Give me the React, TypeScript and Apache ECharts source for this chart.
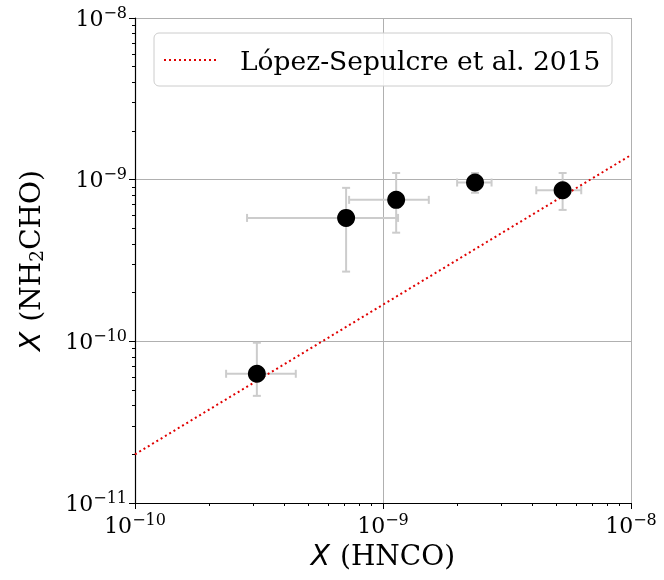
import { useEffect, useRef } from "react";
import * as echarts from "echarts";

const hnco = [3.1e-10, 7.1e-10, 1.13e-9, 2.35e-9, 5.3e-9];
const hncoLow = [2.33e-10, 2.83e-10, 7.3e-10, 1.99e-9, 4.15e-9];
const hncoHigh = [4.45e-10, 1.15e-9, 1.53e-9, 2.74e-9, 6.3e-9];
const nh2cho = [6.3e-11, 5.8e-10, 7.5e-10, 9.6e-10, 8.6e-10];
const nh2choLow = [4.6e-11, 2.7e-10, 4.7e-10, 8.3e-10, 6.5e-10];
const nh2choHigh = [9.8e-11, 8.9e-10, 1.1e-9, 1.1e-9, 1.1e-9];
const fitLine = [
  [1e-10, 2.0e-11],
  [1e-8, 1.42e-9],
];

const tickLabel = (v: number) => {
  const e = Math.round(Math.log10(v));
  return `{b|10}{s|−${Math.abs(e)}}`;
};

const tickRich = {
  b: { fontSize: 22, fontFamily: "DejaVu Serif", color: "#000" },
  s: { fontSize: 16, fontFamily: "DejaVu Serif", color: "#000", padding: [0, 0, 12, 0] },
};

const nameRich = {
  i: { fontSize: 28, fontStyle: "italic", fontFamily: "DejaVu Sans", color: "#000", padding: [0, 10, 0, 0] },
  r: { fontSize: 28, fontFamily: "DejaVu Serif", color: "#000" },
  sub: { fontSize: 19, fontFamily: "DejaVu Serif", color: "#000", padding: [10, 0, 0, 0] },
};

export default function App() {
  const ref = useRef<HTMLDivElement>(null);

  useEffect(() => {
    if (!ref.current) return;
    const chart = echarts.init(ref.current, null, { renderer: "svg" });
    const errData = hnco.map((x, i) => [x, nh2cho[i], hncoLow[i], hncoHigh[i], nh2choLow[i], nh2choHigh[i]]);
    const axisCommon = {
      type: "log" as const,
      logBase: 10,
      axisLine: { show: true, onZero: false, lineStyle: { color: "#000", width: 1.2 } },
      axisTick: { show: true, length: 6, lineStyle: { color: "#000" } },
      minorTick: { show: true, splitNumber: 9, length: 3, lineStyle: { color: "#000" } },
      splitLine: { show: true, lineStyle: { color: "#b0b0b0", width: 1 } },
    };
    chart.setOption({
      animation: false,
      grid: { left: 135, right: 33, top: 18, bottom: 77, outerBoundsMode: "none" },
      xAxis: {
        ...axisCommon,
        min: 1e-10,
        max: 1e-8,
        axisLabel: { formatter: tickLabel, rich: tickRich, margin: 8 },
        name: "{i|X}{r|(HNCO)}",
        nameLocation: "middle",
        nameGap: 38,
        nameTextStyle: { rich: nameRich },
      },
      yAxis: {
        ...axisCommon,
        min: 1e-11,
        max: 1e-8,
        axisLabel: { formatter: tickLabel, rich: tickRich, margin: 8 },
        name: "{i|X}{r|(NH}{sub|2}{r|CHO)}",
        nameLocation: "middle",
        nameGap: 90,
        nameTextStyle: { rich: nameRich },
      },
      series: [
        {
          type: "line",
          data: fitLine,
          symbol: "none",
          lineStyle: { color: "#e00000", type: [2, 3], width: 2 },
          z: 3,
        },
        {
          type: "custom",
          data: errData,
          z: 2,
          renderItem: (params: any, api: any) => {
            const x = api.value(0), y = api.value(1);
            const pl = api.coord([api.value(2), y]);
            const pr = api.coord([api.value(3), y]);
            const pb = api.coord([x, api.value(4)]);
            const pt = api.coord([x, api.value(5)]);
            const c = 4;
            const style = { stroke: "#cccccc", lineWidth: 2 };
            const ln = (x1: number, y1: number, x2: number, y2: number) => ({
              type: "line",
              shape: { x1, y1, x2, y2 },
              style,
            });
            return {
              type: "group",
              children: [
                ln(pl[0], pl[1], pr[0], pr[1]),
                ln(pl[0], pl[1] - c, pl[0], pl[1] + c),
                ln(pr[0], pr[1] - c, pr[0], pr[1] + c),
                ln(pb[0], pb[1], pt[0], pt[1]),
                ln(pb[0] - c, pb[1], pb[0] + c, pb[1]),
                ln(pt[0] - c, pt[1], pt[0] + c, pt[1]),
              ],
            };
          },
        },
        {
          type: "scatter",
          data: hnco.map((x, i) => [x, nh2cho[i]]),
          symbolSize: 18,
          itemStyle: { color: "#000", opacity: 1 },
          z: 4,
        },
      ],
      graphic: [
        {
          type: "rect",
          shape: { x: 154, y: 33, width: 458, height: 53, r: 5 },
          style: { fill: "rgba(255,255,255,0.85)", stroke: "#cccccc", lineWidth: 1 },
          z: 10,
        },
        {
          type: "line",
          shape: { x1: 164, y1: 60, x2: 218, y2: 60 },
          style: { stroke: "#e00000", lineWidth: 2, lineDash: [2, 3] },
          z: 11,
        },
        {
          type: "text",
          x: 240,
          y: 60,
          style: {
            text: "Lόpez-Sepulcre et al. 2015",
            fontSize: 26.5,
            fontFamily: "DejaVu Serif",
            fill: "#000",
            verticalAlign: "middle",
          },
          z: 11,
        },
      ],
    });
    return () => chart.dispose();
  }, []);

  return <div ref={ref} style={{ position: "fixed", left: 0, top: 0, width: 664, height: 580 }} />;
}
